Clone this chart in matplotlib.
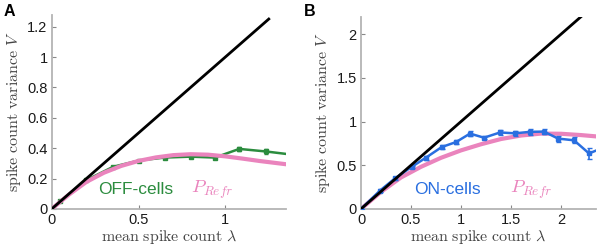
import matplotlib.pyplot as plt
import numpy as np

plt.rcParams['mathtext.fontset'] = 'cm'
plt.rcParams['font.family'] = ['Liberation Sans', 'DejaVu Sans']

# Panel A: OFF-cells
off_mean = [0.0, 0.05, 0.2, 0.355, 0.5, 0.65, 0.8, 0.94, 1.08, 1.235, 1.40]
off_var = [0.0, 0.05, 0.19, 0.278, 0.318, 0.338, 0.344, 0.338, 0.395, 0.378, 0.355]
off_err = [0.0, 0.003, 0.005, 0.006, 0.006, 0.007, 0.008, 0.008, 0.012, 0.014, 0.0]
refr_a_mean = [0.0, 0.1, 0.2, 0.3, 0.4, 0.5, 0.6, 0.7, 0.8, 0.9, 1.0, 1.1, 1.2, 1.3, 1.35]
refr_a_var = [0.0, 0.095, 0.178, 0.238, 0.283, 0.316, 0.339, 0.354, 0.36, 0.357, 0.346, 0.331, 0.315, 0.301, 0.294]

# Panel B: ON-cells
on_mean = [0.0, 0.19, 0.34, 0.505, 0.647, 0.807, 0.95, 1.09, 1.23, 1.39, 1.54,
           1.69, 1.83, 1.97, 2.13, 2.28, 2.42]
on_var = [0.0, 0.21, 0.35, 0.48, 0.585, 0.708, 0.765, 0.862, 0.815, 0.875, 0.865,
          0.882, 0.885, 0.805, 0.785, 0.635, 0.70]
on_err = [0.0, 0.015, 0.015, 0.015, 0.02, 0.02, 0.02, 0.03, 0.02, 0.03, 0.025,
          0.035, 0.03, 0.035, 0.035, 0.06, 0.0]
refr_b_mean = [0.0, 0.2, 0.4, 0.6, 0.8, 1.0, 1.2, 1.4, 1.6, 1.8, 2.0, 2.2, 2.35]
refr_b_var = [0.0, 0.195, 0.36, 0.482, 0.585, 0.67, 0.74, 0.80, 0.84, 0.862, 0.86, 0.845, 0.83]

green = '#2b8c3e'
blue = '#2a6fe0'
pink = '#ea84bd'
spine_gray = '#b4b4b4'
label_gray = '#444444'

fig = plt.figure(figsize=(5.98, 2.49), dpi=100)
axA = fig.add_axes([0.0865, 0.161, 0.392, 0.779])
axB = fig.add_axes([0.6037, 0.161, 0.393, 0.772])


def style(ax):
    for s in ['top', 'right']:
        ax.spines[s].set_visible(False)
    for s in ['left', 'bottom']:
        ax.spines[s].set_color(spine_gray)
        ax.spines[s].set_linewidth(1.3)
    ax.tick_params(direction='in', length=3, width=0.8, color='#888888',
                   labelsize=10.5, labelcolor='#1a1a1a', pad=3)
    ax.set_xlabel(r'$\mathrm{mean\ spike\ count}\ \lambda$', fontsize=11.5,
                  color=label_gray, labelpad=1)
    ax.set_ylabel(r'$\mathrm{spike\ count\ variance}\ V$', fontsize=11.5,
                  color=label_gray, labelpad=3)


# Panel A
axA.errorbar(off_mean, off_var, yerr=off_err, color=green, lw=1.8, marker='s',
             ms=3.5, capsize=1.5, elinewidth=1.2, zorder=2)
axA.plot(refr_a_mean, refr_a_var, color=pink, lw=3, zorder=3)
axA.plot([0, 1.25], [0, 1.25], color='black', lw=2, zorder=4)
axA.set_xlim(0, 1.35)
axA.set_ylim(0, 1.277)
axA.set_xticks([0, 0.5, 1])
axA.set_xticklabels(['0', '0.5', '1'])
axA.set_yticks([0, 0.2, 0.4, 0.6, 0.8, 1.0, 1.2])
axA.set_yticklabels(['0', '0.2', '0.4', '0.6', '0.8', '1', '1.2'])
style(axA)
axA.text(0.485, 0.125, 'OFF-cells', color=green, fontsize=12.5, ha='center', va='center')
axA.text(0.925, 0.125, r'$P_{Refr}$', color=pink, fontsize=13.5, ha='center', va='center')

# Panel B
axB.plot(refr_b_mean, refr_b_var, color=pink, lw=3, zorder=2)
axB.errorbar(on_mean, on_var, yerr=on_err, color=blue, lw=1.8, marker='s',
             ms=3, capsize=1.8, elinewidth=1.2, zorder=3)
axB.plot([0, 2.2], [0, 2.2], color='black', lw=2, zorder=4)
axB.set_xlim(0, 2.35)
axB.set_ylim(0, 2.2)
axB.set_xticks([0, 0.5, 1, 1.5, 2])
axB.set_xticklabels(['0', '0.5', '1', '1.5', '2'])
axB.set_yticks([0, 0.5, 1, 1.5, 2])
axB.set_yticklabels(['0', '0.5', '1', '1.5', '2'])
style(axB)
axB.text(0.86, 0.22, 'ON-cells', color=blue, fontsize=12.5, ha='center', va='center')
axB.text(1.7, 0.22, r'$P_{Refr}$', color=pink, fontsize=13.5, ha='center', va='center')

fig.text(0.006, 0.985, 'A', fontsize=11.5, fontweight='bold', va='top')
fig.text(0.508, 0.985, 'B', fontsize=11.5, fontweight='bold', va='top')

fig.savefig('out.png', dpi=100)
